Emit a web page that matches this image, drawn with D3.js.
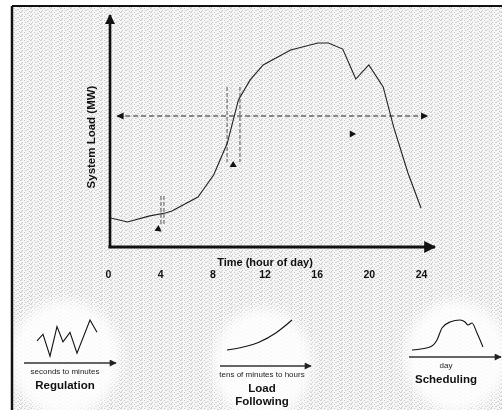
<!DOCTYPE html>
<html>
<head>
<meta charset="utf-8">
<script src="https://cdn.jsdelivr.net/npm/d3@7"></script>
<style>
  html, body { margin: 0; padding: 0; background: #fff; }
  svg { display: block; font-family: "Liberation Sans", Arial, sans-serif; }
</style>
</head>
<body>
<div id="chart"></div>
<script>
// Main daily load curve (hour of day -> system load, arbitrary units)
const hours = [0.2, 1.5, 3.2, 4.4, 4.9, 6.9, 8.1, 9.15, 10, 10.9, 11.9, 14, 16.1, 16.9, 18, 19, 20, 21.1, 21.9, 23, 24];
const load  = [12.8, 11.0, 13.7, 15.0, 15.9, 22.0, 31.7, 45.8, 64.8, 73.6, 80.2, 86.8, 89.9, 89.9, 87.2, 74.0, 80.2, 70.5, 52.9, 32.6, 17.2];
const hourTicks = [0, 4, 8, 12, 16, 20, 24];

// annotation marks on the main plot
const spanHours = [0.7, 24.5];     // dashed double arrow
const spanLoad = 57.7;
const pairA = { h: [4.06, 4.29], load: [22.5, 9.3] };
const pairB = { h: [9.13, 10.12], load: [70.5, 37.4] };
const pointers = [
  { h: 3.85, load: 7.9, angle: 245 },
  { h: 9.6, load: 36.1, angle: 0 },
  { h: 18.7, load: 49.8, angle: 90 }
];

// insets
const regT = [0, 6, 13, 20, 26, 33, 40, 53, 60];
const regV = [18, 25, 2, 33, 17, 27, 5, 40, 27];
const lfT = [0, 1, 2, 3, 4];
const lfV = [0, 3, 8, 17, 30];
const schT = [0, 18, 25, 30, 38, 48, 53, 56, 60, 65, 71];
const schV = [10, 13, 20, 32, 38, 40, 38, 35, 37, 27, 13];

const W = 502, H = 410;
const svg = d3.select('#chart').append('svg').attr('width', W).attr('height', H);
const defs = svg.append('defs');

// stippled halftone background (light, horizontal streaks)
const pat = defs.append('pattern').attr('id', 'stip')
  .attr('width', 10).attr('height', 4).attr('patternUnits', 'userSpaceOnUse');
pat.append('rect').attr('width', 10).attr('height', 4).attr('fill', '#f6f6f6');
[[0, 0, 2], [4, 0, 1], [7, 1, 2], [2, 2, 1], [5, 2, 2], [9, 3, 1], [1, 3, 1]].forEach(([px, py, w], i) => {
  pat.append('rect').attr('x', px).attr('y', py).attr('width', w).attr('height', 1)
    .attr('fill', i % 2 ? '#c4c4c4' : '#d2d2d2');
});
defs.append('filter').attr('id', 'soft')
  .append('feGaussianBlur').attr('stdDeviation', 6);

defs.append('marker').attr('id', 'ax').attr('viewBox', '0 0 10 10')
  .attr('refX', 9).attr('refY', 5).attr('markerWidth', 4).attr('markerHeight', 4)
  .attr('orient', 'auto').attr('markerUnits', 'strokeWidth')
  .append('path').attr('d', 'M0,0 L10,5 L0,10 z').attr('fill', '#111');
defs.append('marker').attr('id', 'dash').attr('viewBox', '0 0 10 10')
  .attr('refX', 9).attr('refY', 5).attr('markerWidth', 7).attr('markerHeight', 6)
  .attr('orient', 'auto-start-reverse').attr('markerUnits', 'strokeWidth')
  .append('path').attr('d', 'M0,0 L10,5 L0,10 z').attr('fill', '#111');
defs.append('marker').attr('id', 'small').attr('viewBox', '0 0 10 10')
  .attr('refX', 9).attr('refY', 5).attr('markerWidth', 8).attr('markerHeight', 7)
  .attr('orient', 'auto').attr('markerUnits', 'userSpaceOnUse')
  .append('path').attr('d', 'M0,0 L10,5 L0,10 z').attr('fill', '#222');

svg.append('rect').attr('x', 12).attr('y', 6).attr('width', W - 12).attr('height', H - 6)
  .attr('fill', 'url(#stip)');

// white halos behind the insets
const halos = [[65, 358, 56, 58], [262, 364, 50, 56], [456, 356, 52, 56]];
svg.append('g').attr('filter', 'url(#soft)').selectAll('ellipse').data(halos).enter()
  .append('ellipse')
  .attr('cx', d => d[0]).attr('cy', d => d[1]).attr('rx', d => d[2]).attr('ry', d => d[3])
  .attr('fill', '#fff').attr('opacity', 0.85);

// frame
svg.append('line').attr('x1', 12).attr('x2', W).attr('y1', 6).attr('y2', 6)
  .attr('stroke', '#111').attr('stroke-width', 2);
svg.append('line').attr('x1', 12).attr('x2', 12).attr('y1', 6).attr('y2', H)
  .attr('stroke', '#111').attr('stroke-width', 2.5);

// main chart
const x = d3.scaleLinear().domain([0, 24]).range([108, 421]);
const y = d3.scaleLinear().domain([0, 100]).range([247, 20]);

svg.append('line').attr('x1', 110).attr('x2', 110).attr('y1', y(0) + 1).attr('y2', 15)
  .attr('stroke', '#111').attr('stroke-width', 2.6).attr('marker-end', 'url(#ax)');
svg.append('line').attr('x1', 108.5).attr('x2', 435).attr('y1', y(0)).attr('y2', y(0))
  .attr('stroke', '#111').attr('stroke-width', 3).attr('marker-end', 'url(#ax)');

const xAxis = svg.append('g').attr('transform', `translate(0,${y(0)})`)
  .call(d3.axisBottom(x).tickValues(hourTicks).tickSize(0).tickPadding(24).tickFormat(d3.format('d')));
xAxis.select('.domain').remove();
xAxis.selectAll('text').attr('font-size', 10.5).attr('font-weight', 'bold')
  .attr('fill', '#111').attr('font-family', '"Liberation Sans", Arial, sans-serif');

svg.append('text').attr('x', 265).attr('y', 266).attr('text-anchor', 'middle')
  .attr('font-size', 11).attr('font-weight', 'bold').attr('fill', '#111')
  .text('Time (hour of day)');
svg.append('text').attr('transform', 'translate(95,137) rotate(-90)').attr('text-anchor', 'middle')
  .attr('font-size', 11.5).attr('font-weight', 'bold').attr('fill', '#111')
  .text('System Load (MW)');

// dashed annotations
svg.append('line')
  .attr('x1', x(spanHours[0])).attr('x2', x(spanHours[1]))
  .attr('y1', y(spanLoad)).attr('y2', y(spanLoad))
  .attr('stroke', '#222').attr('stroke-width', 1.2).attr('stroke-dasharray', '5,3')
  .attr('marker-start', 'url(#dash)').attr('marker-end', 'url(#dash)');

[pairA, pairB].forEach(p => {
  svg.selectAll(null).data(p.h).enter().append('line')
    .attr('x1', d => x(d)).attr('x2', d => x(d))
    .attr('y1', y(p.load[0])).attr('y2', y(p.load[1]))
    .attr('stroke', '#555').attr('stroke-width', 1).attr('stroke-dasharray', '4,2');
});

svg.selectAll('.ptr').data(pointers).enter().append('path').attr('class', 'ptr')
  .attr('d', d3.symbol().type(d3.symbolTriangle).size(22))
  .attr('transform', d => `translate(${x(d.h)},${y(d.load)}) rotate(${d.angle})`)
  .attr('fill', '#111');

// load curve
svg.append('path').datum(hours.map((h, i) => [h, load[i]]))
  .attr('d', d3.line().x(d => x(d[0])).y(d => y(d[1])))
  .attr('fill', 'none').attr('stroke', '#222').attr('stroke-width', 1.1);

// insets
function inset(cfg) {
  const sx = d3.scaleLinear().domain(cfg.xd).range(cfg.xr);
  const sy = d3.scaleLinear().domain(cfg.yd).range(cfg.yr);
  svg.append('path').datum(cfg.t.map((t, i) => [t, cfg.v[i]]))
    .attr('d', d3.line().x(d => sx(d[0])).y(d => sy(d[1])).curve(cfg.curve))
    .attr('fill', 'none').attr('stroke', '#111').attr('stroke-width', 1.1);
  svg.append('line').attr('x1', cfg.ax[0]).attr('x2', cfg.ax[1])
    .attr('y1', cfg.ay).attr('y2', cfg.ay)
    .attr('stroke', '#333').attr('stroke-width', 1.3).attr('marker-end', 'url(#small)');
  svg.append('text').attr('x', cfg.cx).attr('y', cfg.ay + 11).attr('text-anchor', 'middle')
    .attr('font-size', 8).attr('fill', '#222').text(cfg.scale);
  cfg.title.forEach((s, i) => {
    svg.append('text').attr('x', cfg.cx).attr('y', cfg.ty + i * 13).attr('text-anchor', 'middle')
      .attr('font-size', 11.5).attr('font-weight', 'bold').attr('fill', '#111').text(s);
  });
}

inset({ t: regT, v: regV, xd: [0, 60], xr: [37, 97], yd: [0, 40], yr: [358, 320],
  curve: d3.curveLinear, ax: [24, 116], ay: 363, cx: 65, scale: 'seconds to minutes',
  title: ['Regulation'], ty: 389 });
inset({ t: lfT, v: lfV, xd: [0, 4], xr: [227, 292], yd: [0, 30], yr: [350, 320],
  curve: d3.curveMonotoneX, ax: [220, 311], ay: 366, cx: 262, scale: 'tens of minutes to hours',
  title: ['Load', 'Following'], ty: 392 });
inset({ t: schT, v: schV, xd: [0, 71], xr: [412, 483], yd: [0, 40], yr: [360, 320],
  curve: d3.curveMonotoneX, ax: [409, 501], ay: 357, cx: 446, scale: 'day',
  title: ['Scheduling'], ty: 383 });
</script>
</body>
</html>
